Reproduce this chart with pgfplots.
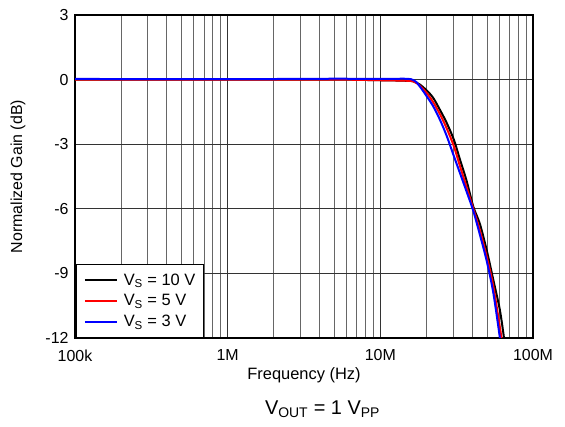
\documentclass[border=0pt]{standalone}
\usepackage{pgfplots}
\pgfplotsset{compat=1.18}
\usepackage{fontspec}
\setmainfont{Liberation Sans}
\begin{document}
\begin{tikzpicture}[x=1bp,y=1bp]
\useasboundingbox (-75bp,-89bp) rectangle (490bp,338bp);
\begin{axis}[
  at={(0,0)}, anchor=south west,
  scale only axis, width=458bp, height=323bp,
  xmode=log, xmin=1e5, xmax=1e8,
  ymin=-12, ymax=3,
  xtick={1e5,1e6,1e7,1e8}, xticklabels={100k,1M,10M,100M},
  minor xtick={2e5,3e5,4e5,5e5,6e5,7e5,8e5,9e5,2e6,3e6,4e6,5e6,6e6,7e6,8e6,9e6,2e7,3e7,4e7,5e7,6e7,7e7,8e7,9e7},
  ytick={-12,-9,-6,-3,0,3}, yticklabels={-12,-9,-6,-3,0,3},
  major tick length=0pt, minor tick length=0pt,
  xmajorgrids, xminorgrids, ymajorgrids,
  major grid style={black!80, line width=0.9bp},
  minor x grid style={black!60, line width=0.9bp},
  axis line style={line width=1.8bp},
  /pgf/number format/assume math mode=true,
  tick label style={font=\fontsize{16}{18}\selectfont},
  xticklabel style={yshift=-8bp},
  yticklabel style={xshift=-3bp},
  xlabel={Frequency (Hz)},
  ylabel={Normalized Gain (dB)},
  xlabel style={font=\fontsize{16.5}{18}\selectfont, at={(axis description cs:0.5,-0.1146)}, anchor=center},
  ylabel style={font=\fontsize{16}{18}\selectfont, at={(axis description cs:-0.1245,0.5)}, anchor=center},
  legend style={at={(axis description cs:0,0)}, anchor=south west, draw=black, line width=1.5bp,
    font=\fontsize{16.5}{19}\selectfont, inner xsep=6bp, inner ysep=7bp, row sep=4bp,
    cells={anchor=west}},
  legend image code/.code={\draw[#1, line width=2bp] (2bp,0bp) -- (34bp,0bp); \path (0bp,0bp) (38bp,0bp);},
  legend cell align=left,
  clip=true,
]
\addplot[black, line width=2bp, smooth] coordinates {
(1e5,0) (1e6,0) (5e6,0) (1e7,-0.03) (1.4e7,-0.05) (1.64e7,-0.08) (1.815e7,-0.23) (2.01e7,-0.5) (2.22e7,-0.85) (2.455e7,-1.4) (2.716e7,-2.0) (3.034e7,-2.8) (3.319e7,-3.7) (3.673e7,-4.7) (4.064e7,-5.9) (4.487e7,-6.7) (4.966e7,-7.9) (5.495e7,-9.3) (6.067e7,-10.7) (6.457e7,-12)
};
\addlegendentry{V\textsubscript{S} = 10 V}
\addplot[red, line width=2bp, smooth] coordinates {
(1e5,0) (1e6,0) (5e6,0) (1e7,-0.03) (1.4e7,-0.05) (1.64e7,-0.08) (1.815e7,-0.28) (2.01e7,-0.62) (2.22e7,-1.05) (2.455e7,-1.6) (2.716e7,-2.25) (3.034e7,-3.1) (3.319e7,-4.0) (3.673e7,-5.0) (4.064e7,-6.0) (4.487e7,-7.0) (4.966e7,-8.2) (5.495e7,-9.6) (6.22e7,-12)
};
\addlegendentry{V\textsubscript{S} = 5 V}
\addplot[blue, line width=2bp, smooth] coordinates {
(1e5,0.03) (1e6,0.02) (5e6,0.04) (1e7,0.03) (1.4e7,0.04) (1.585e7,0.02) (1.71e7,-0.1) (1.85e7,-0.4) (2.01e7,-0.77) (2.22e7,-1.24) (2.455e7,-1.86) (2.716e7,-2.6) (3.034e7,-3.56) (3.319e7,-4.33) (3.673e7,-5.2) (4.064e7,-6.1) (4.487e7,-7.2) (4.966e7,-8.4) (5.495e7,-9.9) (6.07e7,-12)
};
\addlegendentry{V\textsubscript{S} = 3 V}
\end{axis}
\node[font=\fontsize{20}{22}\selectfont] at (247.5bp,-71bp) {V\textsubscript{OUT} = 1 V\textsubscript{PP}};
\end{tikzpicture}
\end{document}
